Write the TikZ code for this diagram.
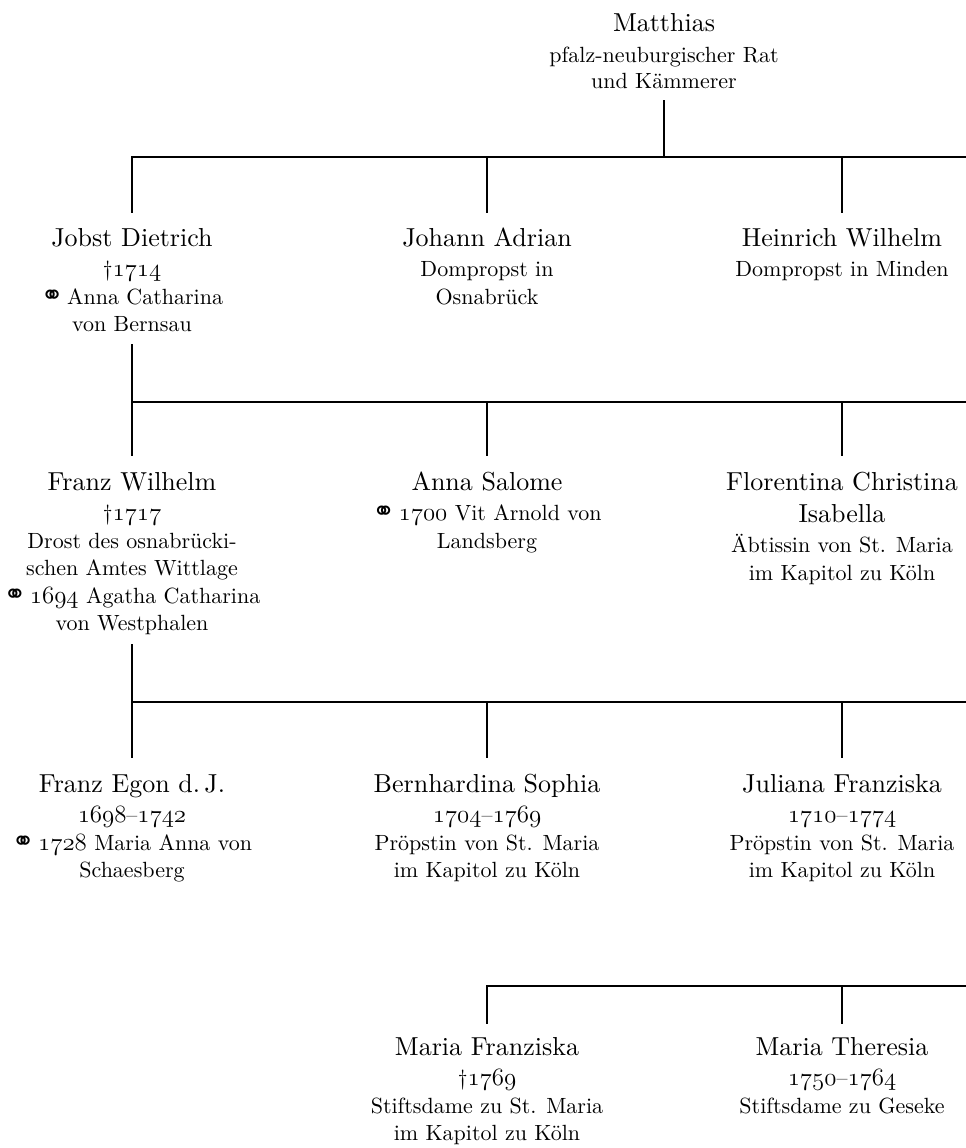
\documentclass[tikz,border=0pt]{standalone}
\usepackage{fontspec}
\setmainfont{lmroman10-regular.otf}
\newfontfamily\symfont{DejaVu Sans}
% old-style figures from the Latin Modern math italic
\newcommand\osn[1]{{\fontsize{23}{27.5}\usefont{OML}{lmm}{m}{it}#1}}
% marriage sign
\newcommand\mar{{\symfont\fontsize{27}{27.5}\selectfont ⚭}\,}
% name line
\newcommand\nm[1]{{\fontsize{26}{32}\selectfont #1}}
\newcommand\gap{\\[3pt]}
\newcommand\entry[1]{\begin{tabular}[t]{@{}c@{}}#1\end{tabular}}

\tikzset{
  person/.style={anchor=base, inner sep=0pt, font=\fontsize{22}{27.5}\selectfont},
  tree/.style={line width=1.1pt, line cap=rect},
}

\begin{document}
\begin{tikzpicture}[x=1pt, y=-1pt]
\useasboundingbox (0,0) rectangle (966,1148);

% generation 0
\node[person] (matthias) at (664,32) {\entry{\nm{Matthias}\\[3pt] pfalz-neuburgischer Rat\\[-1pt] und Kämmerer}};

% generation 1
\node[person] (jobst) at (132,246) {\entry{\nm{Jobst Dietrich}\gap †\osn{1714}\\ \mar Anna Catharina\\ von Bernsau}};
\node[person] (johann) at (487,246) {\entry{\nm{Johann Adrian}\gap Dompropst in\\ Osnabrück}};
\node[person] (heinrich) at (842,246) {\entry{\nm{Heinrich Wilhelm}\gap Dompropst in Minden}};

% generation 2
\node[person] (franzw) at (132,490) {\entry{\nm{Franz Wilhelm}\gap †\osn{1717}\\ Drost des osnabrücki-\\ schen Amtes Wittlage\\ \mar\osn{1694} Agatha Catharina\\ von Westphalen}};
\node[person] (annas) at (487,490) {\entry{\nm{Anna Salome}\gap \mar\osn{1700} Vit Arnold von\\ Landsberg}};
\node[person] (florentina) at (842,490) {\entry{\nm{Florentina Christina}\\[4.5pt]\nm{Isabella}\gap Äbtissin von St. Maria\\ im Kapitol zu Köln}};

% generation 3
\node[person] (franze) at (132,792) {\entry{\nm{Franz Egon d.\,J.}\gap \osn{1698}–\osn{1742}\\ \mar\osn{1728} Maria Anna von\\ Schaesberg}};
\node[person] (bernhardina) at (487,792) {\entry{\nm{Bernhardina Sophia}\gap \osn{1704}–\osn{1769}\\ Pröpstin von St. Maria\\ im Kapitol zu Köln}};
\node[person] (juliana) at (842,792) {\entry{\nm{Juliana Franziska}\gap \osn{1710}–\osn{1774}\\ Pröpstin von St. Maria\\ im Kapitol zu Köln}};

% generation 4
\node[person] (mariaf) at (487,1055) {\entry{\nm{Maria Franziska}\gap †\osn{1769}\\ Stiftsdame zu St. Maria\\ im Kapitol zu Köln}};
\node[person] (mariat) at (842,1055) {\entry{\nm{Maria Theresia}\gap \osn{1750}–\osn{1764}\\ Stiftsdame zu Geseke}};

% sibling bars
\coordinate (barA-l) at (132,157);  \coordinate (barA-r) at (966,157);
\coordinate (barB-l) at (132,402);  \coordinate (barB-r) at (966,402);
\coordinate (barC-l) at (132,702);  \coordinate (barC-r) at (966,702);
\coordinate (barD-l) at (487,986);  \coordinate (barD-r) at (966,986);

\draw[tree] (barA-l) -- (barA-r);
\draw[tree] (barB-l) -- (barB-r);
\draw[tree] (barC-l) -- (barC-r);
\draw[tree] (barD-l) -- (barD-r);

% parents down to their bars
\draw[tree] ([yshift=-3pt]matthias.south) -- (matthias.south |- barA-l);
\draw[tree] ([yshift=-5pt]jobst.south) -- (jobst.south |- barB-l);
\draw[tree] ([yshift=-6pt]franzw.south) -- (franzw.south |- barC-l);

% children up to their bars
\foreach \p in {jobst,johann,heinrich}
  \draw[tree] ([yshift=14pt]\p.north) -- (\p.north |- barA-l);
\foreach \p in {franzw,annas,florentina}
  \draw[tree] ([yshift=15.5pt]\p.north) -- (\p.north |- barB-l);
\foreach \p in {franze,bernhardina,juliana}
  \draw[tree] ([yshift=15.5pt]\p.north) -- (\p.north |- barC-l);
\foreach \p in {mariaf,mariat}
  \draw[tree] ([yshift=12.5pt]\p.north) -- (\p.north |- barD-l);
\end{tikzpicture}
\end{document}
